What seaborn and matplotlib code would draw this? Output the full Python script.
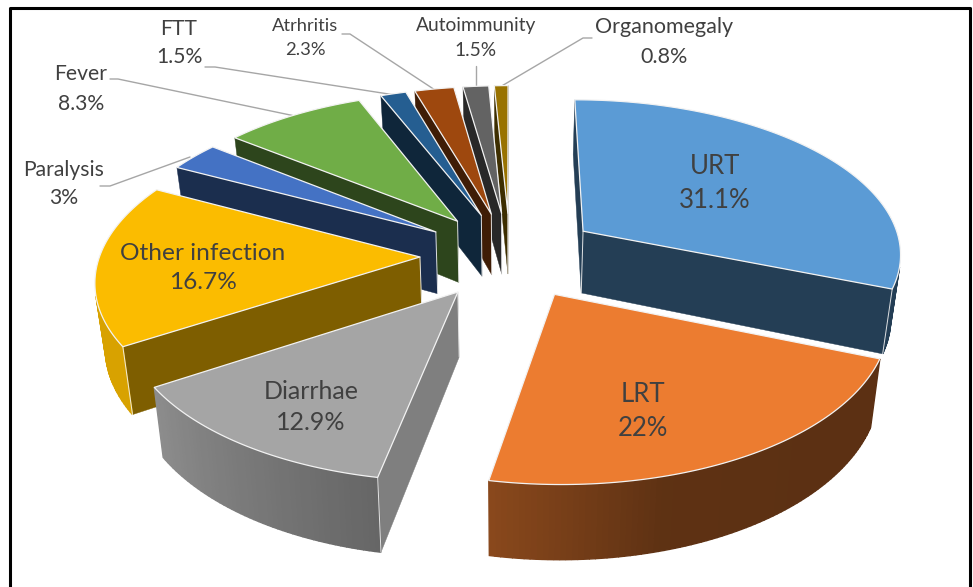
import numpy as np
import matplotlib
matplotlib.use("Agg")
import matplotlib.pyplot as plt
import seaborn as sns

# ---- data ----
categories = ["URT", "LRT", "Diarrhae", "Other infection", "Paralysis", "Fever",
              "FTT", "Atrhritis", "Autoimmunity", "Organomegaly"]
values = [31.1, 22, 12.9, 16.7, 3, 8.3, 1.5, 2.3, 1.5, 0.8]
colors = ["#5B9BD5", "#EC7C30", "#A5A5A5", "#FBBC00", "#4472C4", "#70AD47",
          "#255E91", "#9E480E", "#636363", "#997300"]

# ---- styling of the 3D pie ----
wall_shade = [0.40, 0.40, 0.77, 0.50, 0.40, 0.40, 0.40, 0.40, 0.40, 0.40]
rim_shade = [[0.40], [0.39, 0.39, 0.40, 0.58], [0.62, 0.85], [0.86], [0.5], [0.5],
             [0.5], [0.5], [0.5], [0.5]]
# x, y, font size, line spacing
label_pos = [(715, 183, 18.5, 1.45), (643, 412, 18.5, 1.45), (311, 407, 18, 1.45),
             (203, 268, 17.6, 1.5), (64, 184, 15.2, 1.5), (81, 89, 15.2, 1.6),
             (179, 43, 15.2, 1.55), (305, 38, 13.2, 1.6), (476, 38, 13.8, 1.55),
             (664, 42, 15.5, 1.6)]

CX, CY, R, EXPLODE, TILT, PERSP, HEIGHT, BOTTOM = 510, 255, 320, 90, 0.482, 0.13, 63, 0.975

sns.set_theme(style="white")
plt.rcParams["font.family"] = ["Lato", "DejaVu Sans"]
palette = sns.color_palette(colors)


def project(X, Y, bottom=False):
    """Plane coordinates of the pie -> picture coordinates."""
    X, Y = np.asarray(X, float), np.asarray(Y, float)
    s = 1 / (1 + PERSP * Y / R)
    x = X * s
    y = CY - Y * TILT * s
    if bottom:
        return np.column_stack([CX + x * BOTTOM, y + HEIGHT * s])
    return np.column_stack([CX + x, y])


def visible(q):
    x, y = q[:, 0], -q[:, 1]
    return np.dot(x, np.roll(y, -1)) - np.dot(y, np.roll(x, -1)) > 0


def dim(c, f):
    return tuple(np.array(c) * f)


fig = plt.figure(figsize=(9.73, 5.87), dpi=100)
ax = fig.add_axes([0, 0, 1, 1])
ax.set_xlim(0, 973)
ax.set_ylim(587, 0)
ax.axis("off")

edges = np.cumsum([0] + values) / np.sum(values) * 2 * np.pi
mid = (edges[:-1] + edges[1:]) / 2
order = list(np.argsort(-np.cos(mid)))
EDGE = "#f2f2f2"

for rank, i in enumerate(order):
    z = 2 + 3 * rank
    ox, oy = EXPLODE * np.sin(mid[i]), EXPLODE * np.cos(mid[i])
    th = np.linspace(edges[i], edges[i + 1], max(6, int(values[i] * 4)))
    rx, ry = ox + R * np.sin(th), oy + R * np.cos(th)
    rim_t, rim_b = project(rx, ry), project(rx, ry, True)
    ap_t, ap_b = project([ox], [oy])[0], project([ox], [oy], True)[0]
    wall = dim(palette[i], wall_shade[i])

    # radial walls
    wall_a = np.array([ap_t, rim_t[0], rim_b[0], ap_b])
    wall_b = np.array([rim_t[-1], ap_t, ap_b, rim_b[-1]])
    for q in (wall_a, wall_b):
        if visible(q):
            ax.fill(q[:, 0], q[:, 1], color=wall, lw=0.3, zorder=z)

    # outer wall, with its shading
    sh = rim_shade[i]
    segs = [np.array([rim_t[k], rim_t[k + 1], rim_b[k + 1], rim_b[k]]) for k in range(len(th) - 1)]
    for k, q in enumerate(segs):
        if visible(q):
            f = np.interp(k / (len(th) - 2), np.linspace(0, 1, len(sh)), sh) if len(sh) > 1 else sh[0]
            ax.fill(q[:, 0], q[:, 1], color=dim(palette[i], f), lw=1.0, zorder=z)

    # light vertical corners, only where two visible faces meet or at the inner tip
    corners = [(ap_t, ap_b)]
    if visible(wall_a) and visible(segs[0]):
        corners.append((rim_t[0], rim_b[0]))
    if visible(wall_b) and visible(segs[-1]):
        corners.append((rim_t[-1], rim_b[-1]))
    for a, b in corners:
        ax.plot([a[0], b[0]], [a[1], b[1]], color=EDGE, lw=0.7, zorder=z + 1, alpha=0.9)

    # top
    top = np.vstack([ap_t, rim_t])
    ax.fill(top[:, 0], top[:, 1], facecolor=palette[i], edgecolor=EDGE, lw=0.9,
            joinstyle="round", zorder=z + 2)

# leader lines
leader = "#a6a6a6"
for xs, ys in [((100, 110, 190), (186, 186, 157)),
               ((110, 118, 295), (79, 79, 116)),
               ((205, 215, 395), (67, 67, 95)),
               ((342, 350, 435), (34, 34, 90)),
               ((476, 476), (66, 88)),
               ((592, 583, 500), (38, 38, 87))]:
    ax.plot(xs, ys, color=leader, lw=1.0, zorder=1)

# labels
for name, v, (x, y, size, spacing) in zip(categories, values, label_pos):
    ax.text(x, y, f"{name}\n{v:g}%", ha="center", va="center", fontsize=size,
            color="#404040", linespacing=spacing, zorder=100)

# picture frame
ax.plot([10, 10, 970, 970], [587, 8, 8, 587], color="black", lw=2.2, zorder=101)

fig.savefig("out.png", dpi=100)
